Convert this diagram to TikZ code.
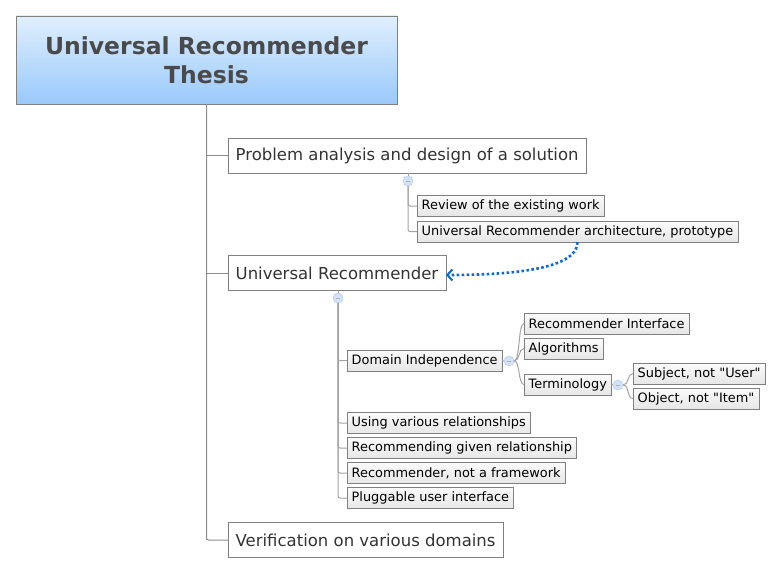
\documentclass[tikz,border=0pt]{standalone}
\usepackage{fontspec}
\setmainfont{DejaVu Sans}[Ligatures=TeXOff]
\usetikzlibrary{arrows.meta,positioning}
\definecolor{titletop}{HTML}{E0EFFE}
\definecolor{titlebot}{HTML}{99C9FB}
\definecolor{boxborder}{HTML}{808080}
\definecolor{linegray}{HTML}{8C8C8C}
\definecolor{txt}{HTML}{333333}
\definecolor{titletxt}{HTML}{4A4A4A}
\definecolor{smalltop}{HTML}{FBFBFB}
\definecolor{smallbot}{HTML}{E6E6E6}
\definecolor{ctlfill}{HTML}{D2E2F8}
\definecolor{ctldraw}{HTML}{A9C5EF}
\definecolor{arrowblue}{HTML}{0A6AD0}
\tikzset{
  titlebox/.style={draw=boxborder, top color=titletop, bottom color=titlebot, text=titletxt,
    font=\fontsize{23.5}{29}\selectfont\bfseries, align=center, minimum width=381pt, minimum height=88pt, inner sep=0pt},
  bigbox/.style={draw=boxborder, fill=white, text=txt, font=\fontsize{16.5}{19}\selectfont,
    anchor=west, minimum height=35pt, inner xsep=7.5pt, inner ysep=0pt},
  smallbox/.style={draw=boxborder, top color=smalltop, bottom color=smallbot, text=black,
    font=\fontsize{12.9}{14}\selectfont, anchor=west, minimum height=21pt, inner xsep=4.5pt, inner ysep=0pt},
  ctl/.style={circle, draw=ctldraw, fill=ctlfill, minimum size=10pt, inner sep=0pt,
    path picture={\draw[gray!60, line width=0.6pt] ([xshift=-2pt]path picture bounding box.center) -- ([xshift=2pt]path picture bounding box.center);}},
  tree/.style={draw=linegray, line width=1pt},
  subtree/.style={draw=linegray!80, line width=1pt, rounded corners=2pt},
  brace/.style={draw=linegray!80, line width=1pt},
  link/.style={draw=arrowblue, line width=2.6pt, dash pattern=on 2.6pt off 2.4pt,
    -{Straight Barb[length=5pt, width=11pt, line width=2pt]}},
}
\begin{document}
\begin{tikzpicture}[x=1pt, y=-1pt]
\useasboundingbox (0,0) rectangle (782,575);
\node[titlebox] (title) at (206.5,60) {Universal Recommender\\Thesis};

\node[bigbox] (prob) at (228,155.5) {Problem analysis and design of a solution};
\node[bigbox] (ur) at (228,273) {Universal Recommender};
\node[bigbox] (verif) at (228,540) {Verification on various domains};

\node[ctl] (c1) at (408,181) {};
\node[smallbox] (rev) at (417,206) {Review of the existing work};
\node[smallbox] (arch) at (417,231.5) {Universal Recommender architecture, prototype};

\node[ctl] (c2) at (338,298) {};
\node[smallbox] (dom) at (347,360.5) {Domain Independence};
\node[smallbox] (using) at (347,423) {Using various relationships};
\node[smallbox] (recgiven) at (347,448) {Recommending given relationship};
\node[smallbox] (notfw) at (347,473) {Recommender, not a framework};
\node[smallbox] (plug) at (347,498) {Pluggable user interface};

\node[ctl] (c3) at (509,361) {};
\node[smallbox] (iface) at (524,323.5) {Recommender Interface};
\node[smallbox] (algo) at (524,348.5) {Algorithms};
\node[smallbox] (term) at (524,384.5) {Terminology};

\node[ctl] (c4) at (618,385) {};
\node[smallbox] (subj) at (633,373.5) {Subject, not "User"};
\node[smallbox] (obj) at (633,398.5) {Object, not "Item"};

% main tree
\draw[tree] (title.south) -- (title.south |- verif.west);
\foreach \n in {prob,ur} \draw[tree] (title.south |- \n.west) -- (\n.west);
\draw[tree, rounded corners=2pt] (title.south) |- (verif.west);

% subtree of prob
\draw[subtree] (prob.south -| c1) -- (c1.north);
\draw[subtree] (c1.south) |- (rev.west);
\draw[subtree] (c1.south) |- (arch.west);

% subtree of ur
\draw[subtree] (ur.south -| c2) -- (c2.north);
\foreach \n in {dom,using,recgiven,notfw} \draw[subtree] (c2.south) |- (\n.west);
\draw[subtree] (c2.south) |- (plug.west);

% domain independence
\draw[subtree] (dom.east) -- (c3.west);
\foreach \n in {iface,algo,term}
  \draw[brace] (c3.east) .. controls ([xshift=6pt]c3.east) and ([xshift=-6pt]\n.west) .. (\n.west);
\draw[subtree] (term.east) -- (c4.west);
\foreach \n in {subj,obj}
  \draw[brace] (c4.east) .. controls ([xshift=6pt]c4.east) and ([xshift=-6pt]\n.west) .. (\n.west);

% relationship
\draw[link] (arch.south) .. controls ([yshift=-28pt]arch.south) and ([xshift=60pt,yshift=-2pt]ur.east) .. ([yshift=-2pt]ur.east);
\end{tikzpicture}
\end{document}
